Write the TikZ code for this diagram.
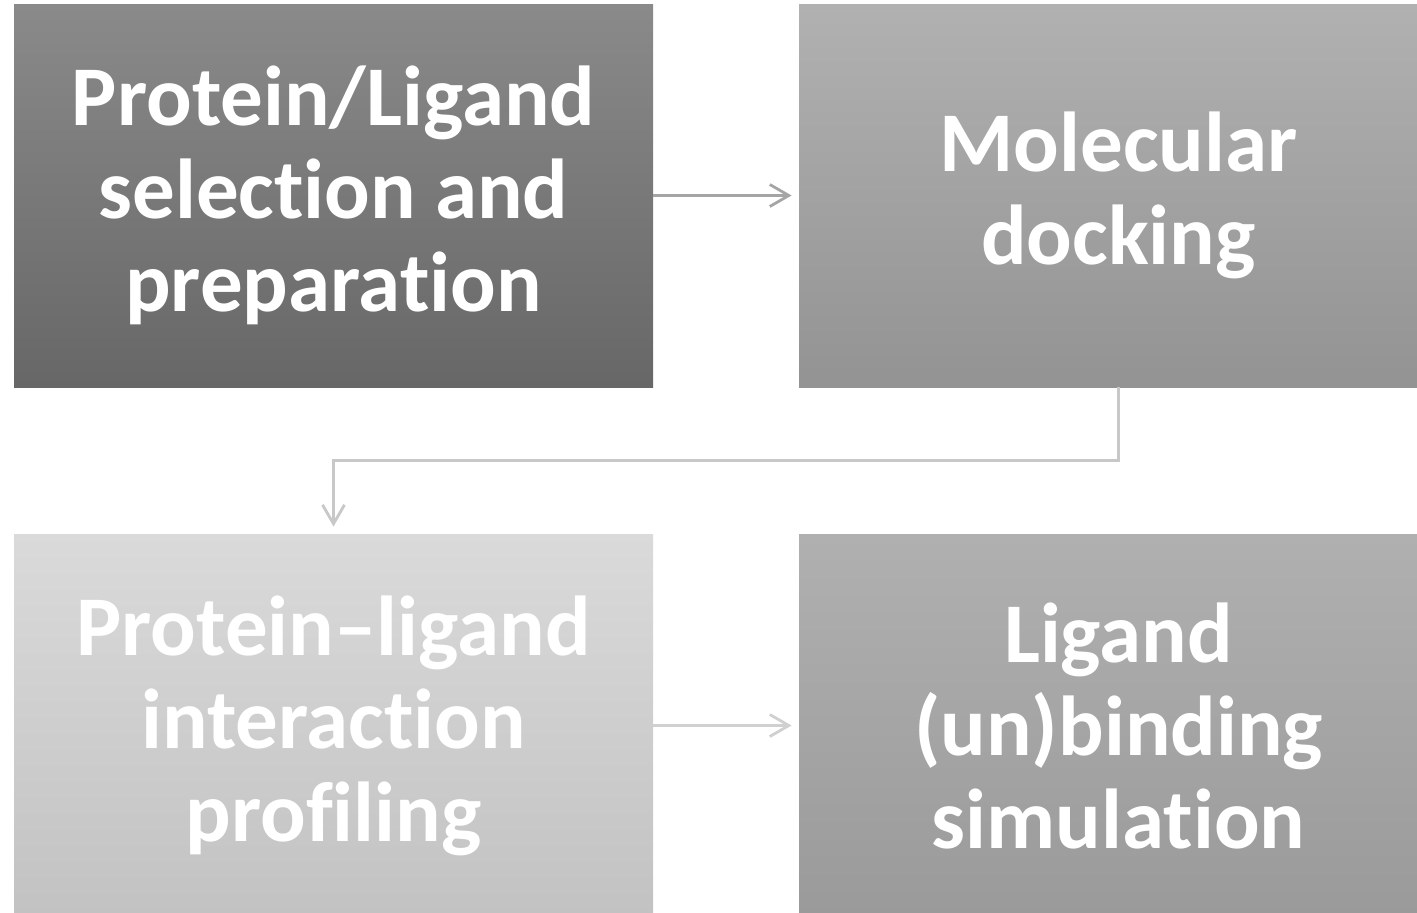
\documentclass[tikz,border=0pt]{standalone}
\usepackage{fontspec}
\setmainfont{Carlito}[RawFeature={-liga}]
\usetikzlibrary{arrows.meta}

\definecolor{stepA}{HTML}{8A8A8A}
\definecolor{stepAb}{HTML}{676767}
\definecolor{stepB}{HTML}{B1B1B1}
\definecolor{stepBb}{HTML}{939393}
\definecolor{stepC}{HTML}{DADADA}
\definecolor{stepCb}{HTML}{C2C2C2}
\definecolor{stepD}{HTML}{B0B0B0}
\definecolor{stepDb}{HTML}{9A9A9A}
\definecolor{linkA}{HTML}{A5A5A5}
\definecolor{linkB}{HTML}{C8C8C8}
\definecolor{linkC}{HTML}{D0D0D0}

\tikzset{
  stagebox/.style={rectangle, inner sep=0pt, minimum width=319.5pt,
    minimum height=191.5pt, text=white, align=center,
    font=\fontsize{42.5}{46.5}\selectfont\bfseries},
  flowlink/.style={line width=1.4pt,
    -{Straight Barb[length=9.5pt,width=11pt,line width=1.4pt]}, shorten >=3.5pt}
}

\begin{document}
\begin{tikzpicture}[x=0.5pt,y=-0.5pt]
  \useasboundingbox (0,0) rectangle (1417,912);
  \clip (0,0) rectangle (1417,912);

  \node[stagebox, top color=stepA, bottom color=stepAb] (prep) at (333.5,195.5)
    {Protein/Ligand\\selection and\\preparation};
  \node[stagebox, top color=stepB, bottom color=stepBb] (dock) at (1118.5,195.5)
    {Molecular\\docking};
  \node[stagebox, top color=stepC, bottom color=stepCb] (prof) at (333.5,725.5)
    {Protein--ligand\\interaction\\profiling};
  \node[stagebox, top color=stepD, bottom color=stepDb] (sim) at (1118.5,725.5)
    {Ligand\\(un)binding\\simulation};

  \draw[flowlink, draw=linkA] (prep.east) -- (dock.west);
  \draw[flowlink, draw=linkB] (dock.south) -- ++(0,73) -| (prof.north);
  \draw[flowlink, draw=linkC] (prof.east) -- (sim.west);
\end{tikzpicture}
\end{document}
